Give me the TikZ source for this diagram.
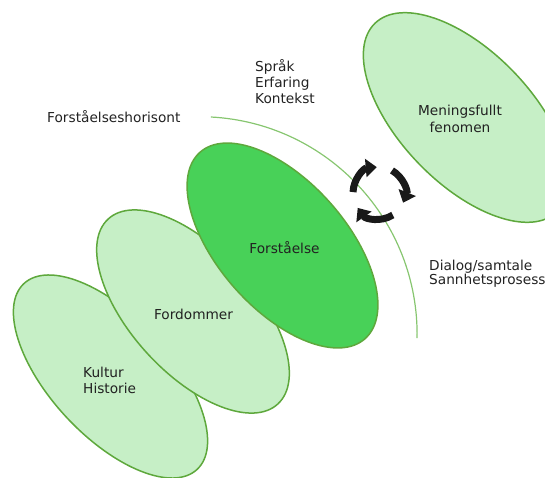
\documentclass[tikz,border=0pt]{standalone}
\usepackage{fontspec}
\setmainfont{DejaVu Sans}
\usetikzlibrary{arrows.meta}
\definecolor{lightg}{RGB}{198,239,198}
\definecolor{darkg}{RGB}{72,209,88}
\definecolor{edgeg}{RGB}{94,168,60}
\definecolor{arcg}{RGB}{135,198,112}
\definecolor{txt}{RGB}{34,34,34}
\definecolor{arrowc}{RGB}{25,25,25}
\begin{document}
\begin{tikzpicture}[x=1pt,y=1pt,
  blob/.style={draw=edgeg, line width=1.5pt, fill=lightg},
  lbl/.style={font=\fontsize{13.7}{16.5}\selectfont, text=txt, inner sep=0pt},
  cyc/.style={line width=7pt, draw=arrowc, -{Triangle[length=11pt,width=18pt]}}]
\useasboundingbox (0,0) rectangle (545,477);
% ellipse centres
\coordinate (ckultur) at (110.5,100.5);
\coordinate (cfordom) at (193,165.5);
\coordinate (cforst) at (282.5,231.5);
\coordinate (cmening) at (466,359.5);
\coordinate (chor) at (199.4,142.6);
\coordinate (ccyc) at (379,284);
% ellipses
\draw[blob] (ckultur) ellipse [x radius=127, y radius=60, rotate=-47];
\draw[blob] (cfordom) ellipse [x radius=125.5, y radius=62, rotate=-47.5];
\draw[blob, fill=darkg] (cforst) ellipse [x radius=124.5, y radius=64, rotate=-48.5];
\draw[blob] (cmening) ellipse [x radius=131, y radius=66, rotate=-46];
% horizon arc
\draw[arcg, line width=1.2pt] ([shift={(87:217.7)}]chor) arc[start angle=87, end angle=-1, radius=217.7];
% cycle arrows
\draw[cyc] ([shift={(178:26)}]ccyc) arc[start angle=178, end angle=95, radius=26];
\draw[cyc] ([shift={(60:26)}]ccyc) arc[start angle=60, end angle=-22, radius=26];
\draw[cyc] ([shift={(-58:26)}]ccyc) arc[start angle=-58, end angle=-145, radius=26];
% labels
\node[lbl, align=left, anchor=north west] (kultur) at (83,110.3) {Kultur\\Historie};
\node[lbl, anchor=base] (fordommer) at (193.5,158) {Fordommer};
\node[lbl, anchor=base] (forstaelse) at (284.5,223.7) {Forståelse};
\node[lbl, align=center, anchor=north, font=\fontsize{13.7}{16.7}\selectfont] (mening) at (460,372) {Meningsfullt\\fenomen};
\node[lbl, anchor=base west] (horisont) at (47,354.3) {Forståelseshorisont};
\node[lbl, align=left, anchor=north west, font=\fontsize{13.7}{16.3}\selectfont] (sprak) at (255,418) {Språk\\Erfaring\\Kontekst};
\node[lbl, align=left, anchor=north west, font=\fontsize{13.7}{13.7}\selectfont] (dialog) at (429,216.7) {Dialog/samtale\\Sannhetsprosess};
\end{tikzpicture}
\end{document}
